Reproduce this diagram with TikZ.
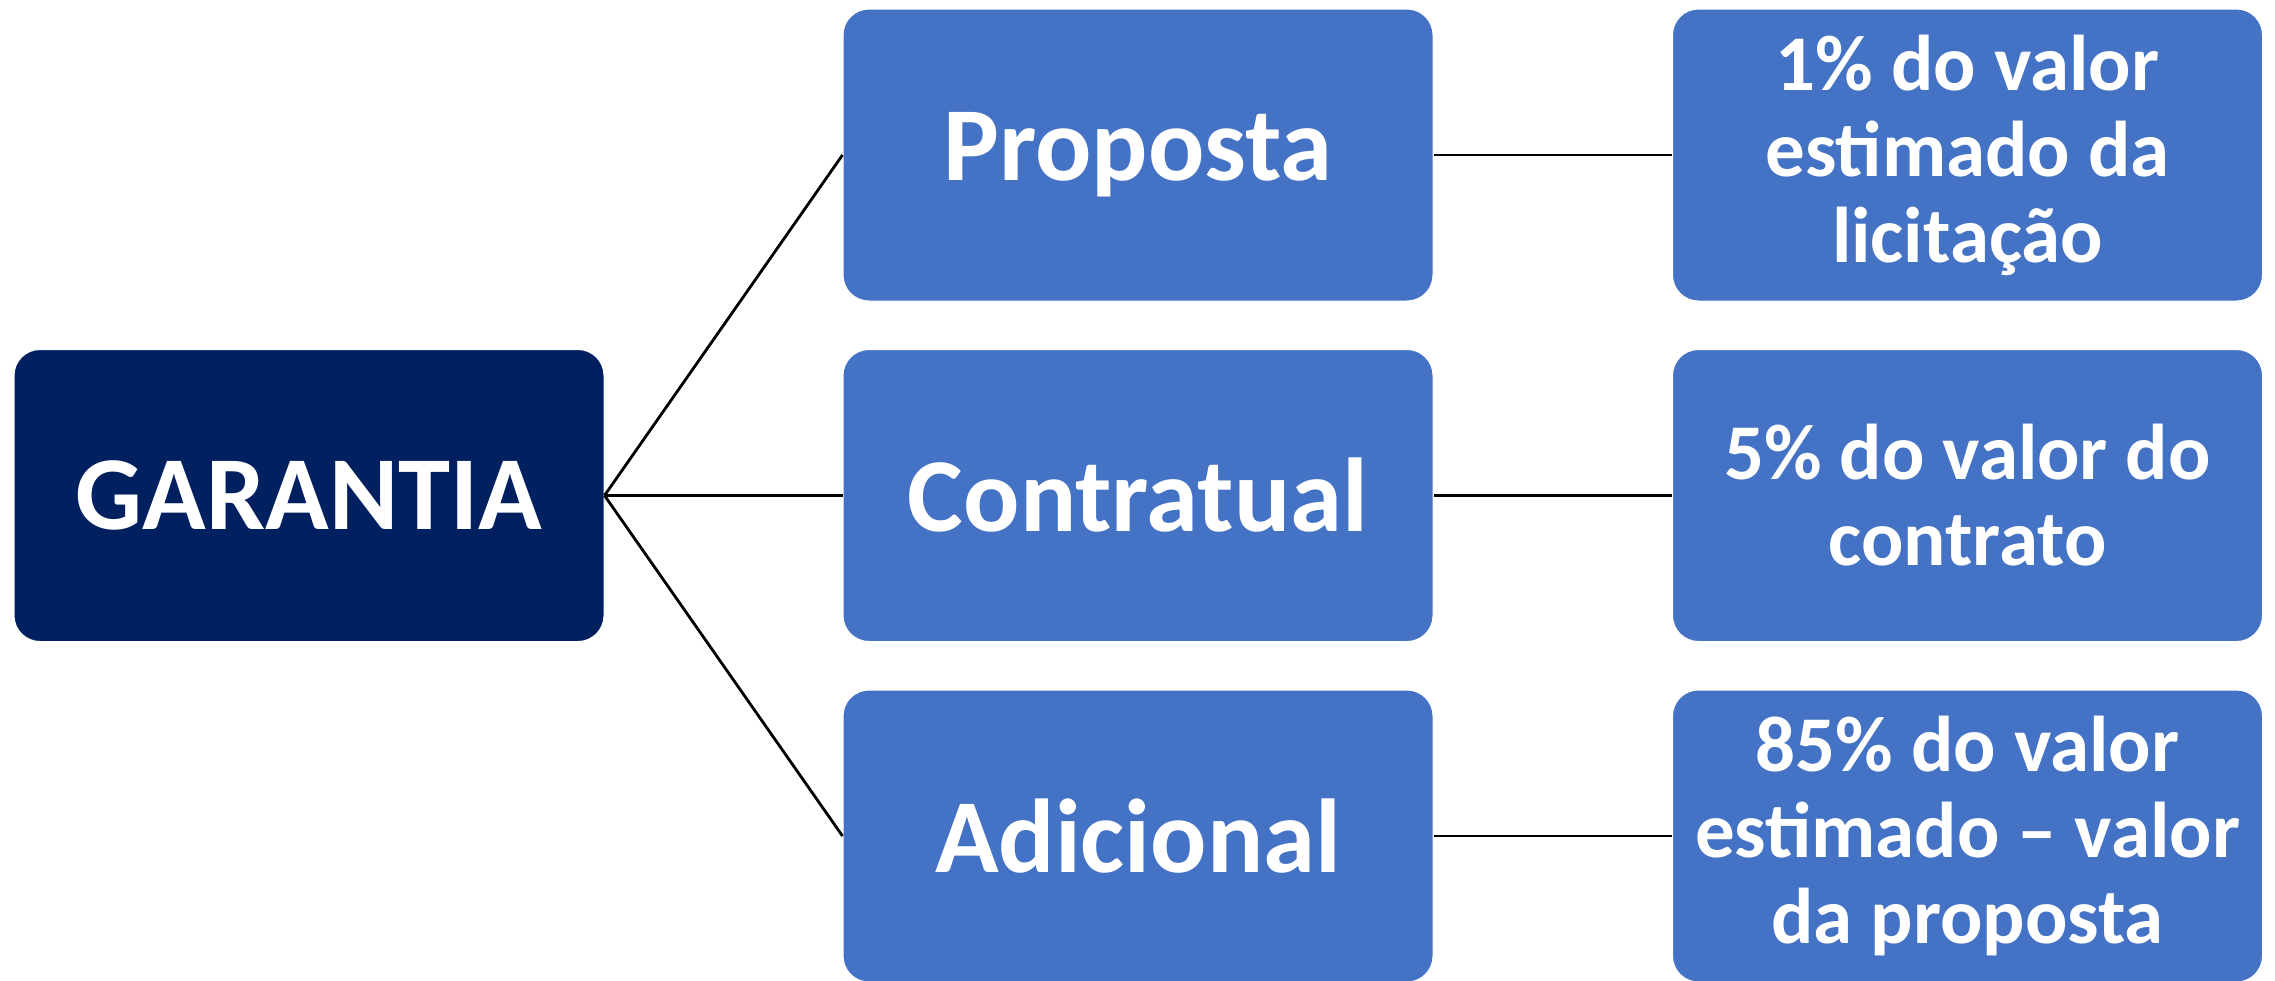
\documentclass[tikz,border=0pt]{standalone}
\usepackage{fontspec}
\setmainfont{Carlito}
\definecolor{navy}{HTML}{002060}
\definecolor{office}{HTML}{4472C4}
\begin{document}
\begin{tikzpicture}[x=1pt,y=-1pt,
  box/.style={rectangle, rounded corners=26pt, draw=white, line width=1pt,
    minimum width=590pt, minimum height=292pt, inner sep=0pt,
    text=white, font=\bfseries\fontsize{105}{110}\selectfont, align=center},
  rootbox/.style={box, fill=navy},
  catbox/.style={box, fill=office},
  valbox/.style={box, fill=office, font=\bfseries\fontsize{79}{86}\selectfont},
  link/.style={draw=black, line width=2.8pt}]
\useasboundingbox (0,0) rectangle (2275,980);

\node[rootbox] (g) at (309,495.5) {GARANTIA};

\node[catbox] (p) at (1138,155) {Proposta};
\node[catbox] (c) at (1138,495.5) {Contratual};
\node[catbox] (a) at (1138,836) {Adicional};

\node[valbox] (vp) at (1967.5,155) {1\% do valor\\estimado da\\licitação};
\node[valbox] (vc) at (1967.5,495.5) {5\% do valor do\\contrato};
\node[valbox] (va) at (1967.5,836) {85\% do valor\\estimado – valor\\da proposta};

\draw[link] (g.east) -- (p.west);
\draw[link] (g.east) -- (c.west);
\draw[link] (g.east) -- (a.west);
\draw[link] (p.east) -- (vp.west);
\draw[link] (c.east) -- (vc.west);
\draw[link] (a.east) -- (va.west);
\end{tikzpicture}
\end{document}
